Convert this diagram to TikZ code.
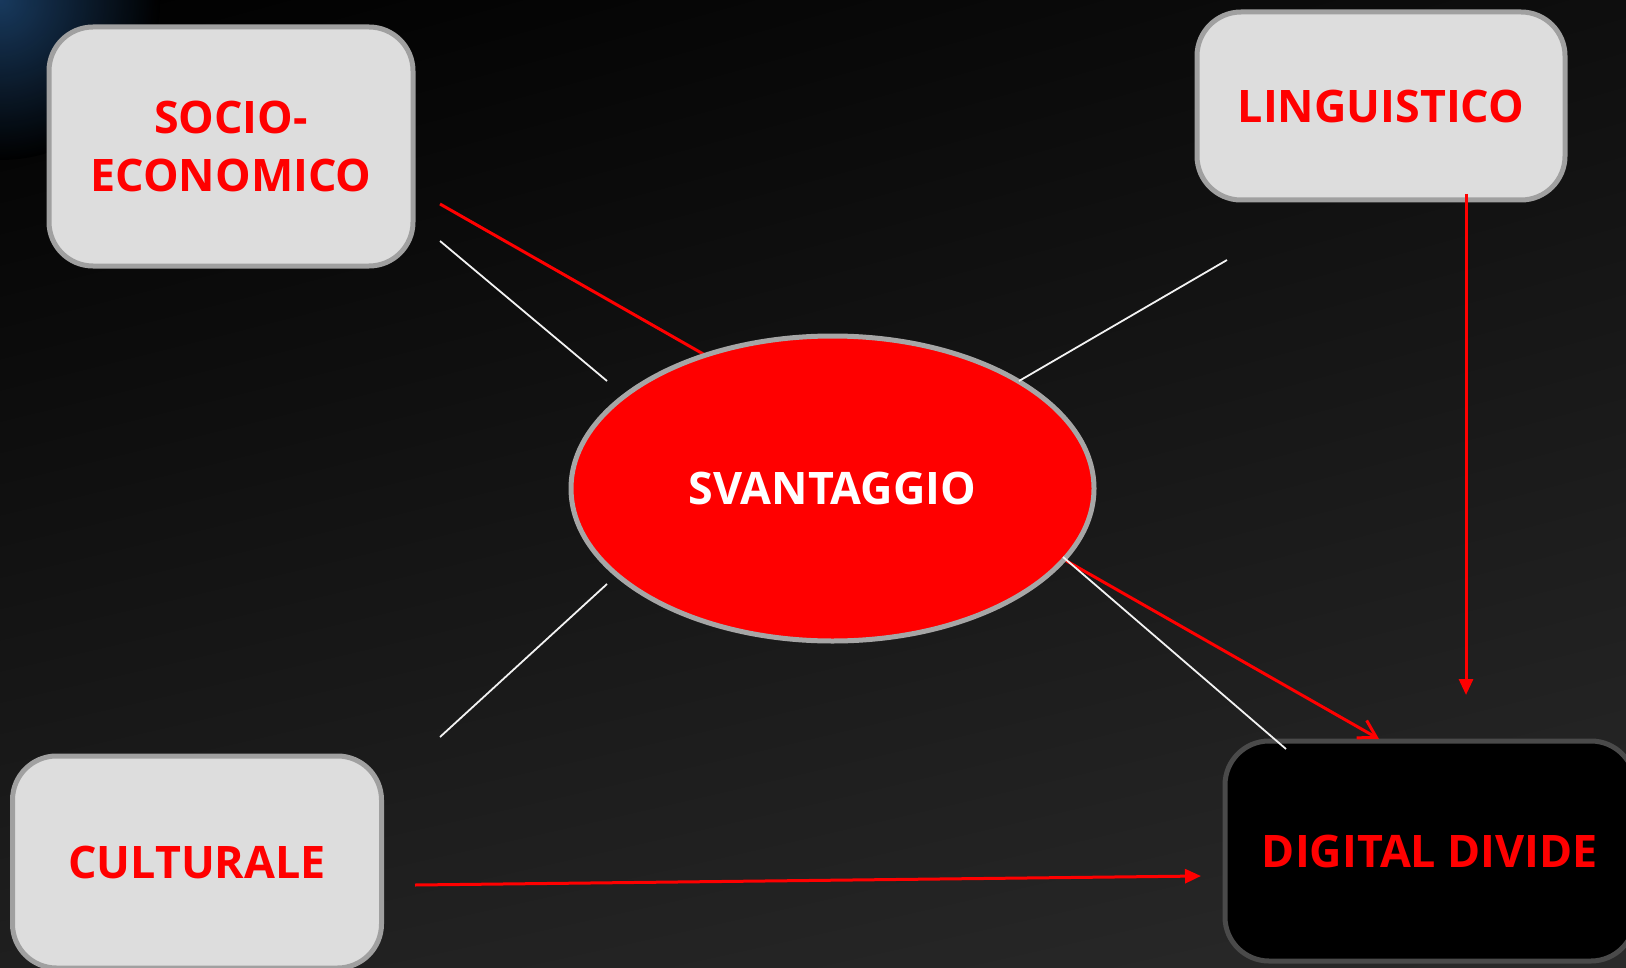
\documentclass[tikz,border=0pt]{standalone}
\usepackage{fontspec}
\setmainfont{Open Sans}
\usetikzlibrary{arrows.meta,shapes.geometric,shadings}
\definecolor{boxfill}{HTML}{DDDDDD}
\definecolor{boxline}{HTML}{A0A0A0}
\definecolor{ddline}{HTML}{4A4A4A}
\definecolor{ovalline}{HTML}{A6A6A6}
\definecolor{glow}{HTML}{1B4068}
\definecolor{bgtr}{HTML}{0E0E0E}
\definecolor{bgbl}{HTML}{1F1F1F}
\definecolor{bgbr}{HTML}{2A2A2A}
\tikzset{
	factor/.style={draw=boxline, fill=boxfill, line width=2.5pt, rounded corners=22pt, text=red, inner sep=0pt, align=center, font=\bfseries\fontsize{22.4}{29}\selectfont},
	outcome/.style={factor, draw=ddline, fill=black},
	core/.style={ellipse, draw=ovalline, fill=red, line width=2.5pt, text=white, inner sep=0pt, font=\bfseries\fontsize{22.4}{29}\selectfont},
	spoke/.style={white!90!gray, line width=0.9pt},
	link/.style={red, line width=1.5pt},
}
\begin{document}
\begin{tikzpicture}[x=0.5pt,y=-0.5pt]
	\useasboundingbox (0,0) rectangle (1626,968);
	\shade[upper left=black, upper right=bgtr, lower left=bgbl, lower right=bgbr] (0,0) rectangle (1626,968);
	\begin{scope}
		\clip (0,0) rectangle (300,300);
		\shade[inner color=glow, outer color=black, opacity=0.9] (0,0) circle (160);
	\end{scope}

	\node[outcome, minimum width=205pt, minimum height=110pt] (dd) at (1430,851) {DIGITAL DIVIDE};
	\node[factor, minimum width=182pt, minimum height=119.5pt] (socio) at (231,146.5) {SOCIO-\\ECONOMICO};
	\node[factor, minimum width=184pt, minimum height=94pt] (ling) at (1381,106) {LINGUISTICO};
	\node[factor, minimum width=184.5pt, minimum height=106pt] (cult) at (197,862) {CULTURALE};

	\coordinate (socioA) at (440,204);
	\coordinate (ddA) at (1379,739);
	\draw[link, -{Straight Barb[length=8.5pt, width=10pt, line width=1.5pt]}] (socioA) -- (ddA);

	\node[core, minimum width=261.5pt, minimum height=152.5pt] (svan) at (832.5,488.5) {SVANTAGGIO};

	\coordinate (socioW) at (440,241);
	\coordinate (svanNW) at (607,381);
	\coordinate (lingW) at (1227,260);
	\coordinate (svanNE) at (1019,381);
	\coordinate (cultW) at (440,737);
	\coordinate (svanSW) at (607,584);
	\coordinate (ddW) at (1286,749);
	\coordinate (svanSE) at (1063,557);
	\draw[spoke] (socioW) -- (svanNW);
	\draw[spoke] (lingW) -- (svanNE);
	\draw[spoke] (cultW) -- (svanSW);
	\draw[spoke] (ddW) -- (svanSE);

	\coordinate (lingB) at (1466,194);
	\coordinate (ddB) at (1466,695);
	\coordinate (cultC) at (415,885);
	\coordinate (ddC) at (1201,876);
	\draw[link, -{Triangle[length=8pt, width=7pt]}] (lingB) -- (ddB);
	\draw[link, -{Triangle[length=8pt, width=7pt]}] (cultC) -- (ddC);
\end{tikzpicture}
\end{document}
